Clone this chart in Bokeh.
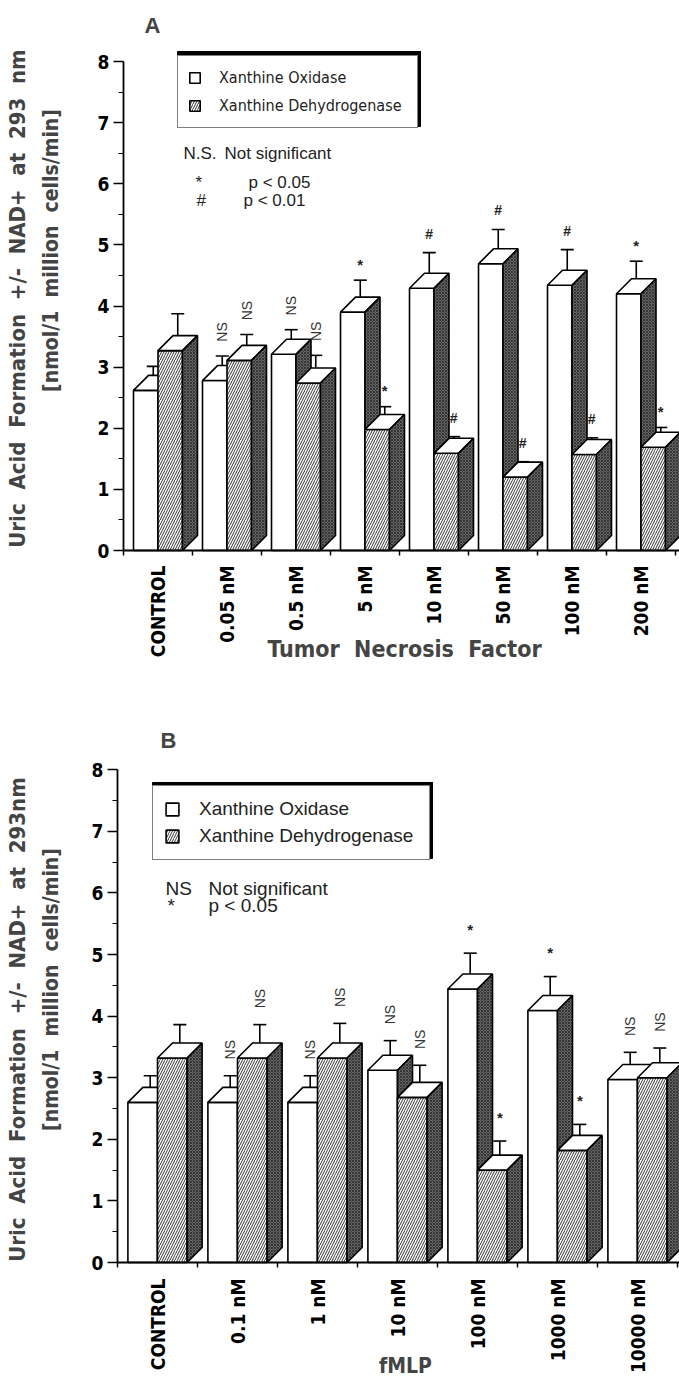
import math
from bokeh.plotting import figure
from bokeh.models import (Range1d, FixedTicker, Whisker, TeeHead, ColumnDataSource,
                          Legend, LegendItem, Label, BoxAnnotation)
from bokeh.layouts import column
from bokeh.embed import file_html
from bokeh.resources import INLINE
from bokeh.core.properties import value

# ---------------- data ----------------
a_categories = ["CONTROL", "0.05 nM", "0.5 nM", "5 nM", "10 nM", "50 nM", "100 nM", "200 nM"]
a_xo = [2.62, 2.78, 3.21, 3.90, 4.29, 4.69, 4.34, 4.20]
a_xo_err = [0.27, 0.28, 0.28, 0.40, 0.46, 0.44, 0.46, 0.41]
a_xd = [3.27, 3.11, 2.74, 1.98, 1.59, 1.20, 1.57, 1.69]
a_xd_err = [0.48, 0.30, 0.33, 0.25, 0.15, 0.13, 0.15, 0.20]
a_xo_sig = ["", "NS", "NS", "*", "#", "#", "#", "*"]
a_xd_sig = ["", "NS", "NS", "*", "#", "#", "#", "*"]

b_categories = ["CONTROL", "0.1 nM", "1 nM", "10 nM", "100 nM", "1000 nM", "10000 nM"]
b_xo = [2.60, 2.60, 2.60, 3.12, 4.44, 4.09, 2.97]
b_xo_err = [0.31, 0.31, 0.31, 0.36, 0.46, 0.43, 0.32]
b_xd = [3.32, 3.32, 3.32, 2.68, 1.50, 1.82, 3.00]
b_xd_err = [0.42, 0.42, 0.44, 0.40, 0.35, 0.30, 0.36]
b_xo_sig = ["", "NS", "NS", "NS", "*", "*", "NS"]
b_xd_sig = ["", "NS", "NS", "NS", "*", "*", "NS"]

series_labels = ["Xanthine Oxidase", "Xanthine Dehydrogenase"]
y_title_1 = "Uric Acid Formation +/- NAD+ at 293 nm"
y_title_1b = "Uric Acid Formation +/- NAD+ at 293nm"
y_title_2 = "[nmol/1 million cells/min]"
a_notes = [("N.S.", "Not significant"), ("*", "p < 0.05"), ("#", "p < 0.01")]
b_notes = [("NS", "Not significant"), ("*", "p < 0.05")]
y_ticks = [0, 1, 2, 3, 4, 5, 6, 7, 8]

NARROW = "'Liberation Sans Narrow', 'DejaVu Sans Condensed', sans-serif"
SANS = "'Liberation Sans', Arial, sans-serif"
GAP = " \u00a0"


def spaced(s, gap=GAP):
    return gap.join(s.split(" "))


def make_panel(cfg, cats, xo, xo_err, xd, xd_err, xo_sig, xd_sig, letter, ytitles,
               xtitle, notes, legend_font, legend_cfg):
    G, U = cfg["G"], cfg["U"]
    fl, fb = cfg["origin"]           # page position of data (0, 0)
    top, height, width = cfg["top"], cfg["height"], cfg["width"]
    W = cfg["W"]
    ddx = cfg["depth"] / G
    ddy = cfg["depth"] / U

    def px(x):
        return (x - fl) / G

    def py(y):
        return (fb - y) / U

    p = figure(frame_width=width, frame_height=height, output_backend="svg",
               toolbar_location=None, min_border=0,
               x_range=Range1d(px(0), px(width)), y_range=Range1d(py(top + height), py(top)))
    p.outline_line_color = None
    p.xgrid.visible = False
    p.ygrid.visible = False
    p.background_fill_color = "white"

    n = len(cats)
    idx = list(range(n))
    xo_l = [i + 0.5 - W for i in idx]
    xo_r = [i + 0.5 for i in idx]
    xd_l = [i + 0.5 for i in idx]
    xd_r = [i + 0.5 + W for i in idx]

    lw = 1.6

    def top_face(ls, rs, hs):
        return ([[l, r, r + ddx, l + ddx] for l, r in zip(ls, rs)],
                [[h, h, h + ddy, h + ddy] for h in hs])

    def side_face(rs, hs):
        return ([[r, r + ddx, r + ddx, r] for r in rs],
                [[0, ddy, h + ddy, h] for h in hs])

    side_style = dict(fill_color="#666666", hatch_pattern="diagonal_cross", hatch_color="#202020",
                      hatch_scale=3.0, hatch_weight=0.7, line_color="black", line_width=lw)

    xo_front = p.quad(left=xo_l, right=xo_r, bottom=0, top=xo, fill_color="white",
                      line_color="black", line_width=lw)
    xs, ys = top_face(xo_l, xo_r, xo)
    p.patches(xs, ys, fill_color="white", line_color="black", line_width=lw)
    xs, ys = side_face(xo_r, xo)
    p.patches(xs, ys, **side_style)

    xd_front = p.quad(left=xd_l, right=xd_r, bottom=0, top=xd, fill_color="white",
                      hatch_pattern="right_diagonal_line", hatch_color="#333333",
                      hatch_scale=5.0, hatch_weight=1.0, line_color="black", line_width=lw)
    xs, ys = top_face(xd_l, xd_r, xd)
    p.patches(xs, ys, fill_color="white", line_color="black", line_width=lw)
    xs, ys = side_face(xd_r, xd)
    p.patches(xs, ys, **side_style)

    # error bars
    base, lower, upper = [], [], []
    for ls, rs, hs, es in ((xo_l, xo_r, xo, xo_err), (xd_l, xd_r, xd, xd_err)):
        for l, r, h, e in zip(ls, rs, hs, es):
            base.append((l + r) / 2 + ddx / 2)
            lower.append(h + ddy / 2)
            upper.append(h + e + ddy / 2)
    src = ColumnDataSource(dict(base=base, lower=lower, upper=upper))
    p.add_layout(Whisker(source=src, base="base", lower="lower", upper="upper",
                         dimension="height", line_color="black", line_width=lw,
                         upper_head=TeeHead(size=13, line_width=lw, line_color="black"),
                         lower_head=None))

    # significance marks
    rot = dict(x=[], y=[], text=[])
    star = dict(x=[], y=[], text=[])
    hsh = dict(x=[], y=[], text=[])
    offs = cfg["sig_off"]
    for ls, rs, hs, es, ss in ((xo_l, xo_r, xo, xo_err, xo_sig), (xd_l, xd_r, xd, xd_err, xd_sig)):
        for l, r, h, e, s in zip(ls, rs, hs, es, ss):
            if not s:
                continue
            x = (l + r) / 2 + ddx / 2
            ycap = h + e + ddy / 2
            d = rot if s == "NS" else (star if s == "*" else hsh)
            d["x"].append(x)
            d["y"].append(ycap + offs[s] / U)
            d["text"].append(s)
    p.text(x="x", y="y", text="text", source=ColumnDataSource(rot), angle=math.pi / 2,
           text_align="center", text_baseline="middle", text_font=value(SANS),
           text_font_size="14px", text_color="#333333")
    p.text(x="x", y="y", text="text", source=ColumnDataSource(star),
           text_align="center", text_baseline="middle", text_font=value(SANS),
           text_font_size="15px", text_font_style="bold", text_color="#222222")
    p.text(x="x", y="y", text="text", source=ColumnDataSource(hsh),
           text_align="center", text_baseline="middle", text_font=value(SANS),
           text_font_size="14px", text_font_style="bold", text_color="#222222")

    # axes pinned at the data origin, inside the full-size frame
    yax = p.yaxis[0]
    yax.fixed_location = 0
    yax.ticker = FixedTicker(ticks=y_ticks, minor_ticks=[t + 0.5 for t in y_ticks[:-1]])
    yax.bounds = (0, 8)
    yax.axis_line_width = 1.8
    yax.major_tick_out = 10
    yax.major_tick_in = 0
    yax.minor_tick_out = 5
    yax.minor_tick_in = 0
    yax.major_tick_line_width = 1.5
    yax.minor_tick_line_width = 1.2
    yax.major_label_standoff = 4
    yax.major_label_text_font = NARROW
    yax.major_label_text_font_style = "bold"
    yax.major_label_text_font_size = "19px"
    yax.major_label_text_color = "black"

    xax = p.xaxis[0]
    xax.fixed_location = 0
    centers = [i + 0.5 for i in idx]
    xax.ticker = FixedTicker(ticks=centers, minor_ticks=list(range(n + 1)))
    xax.bounds = (0, px(width))
    xax.major_label_overrides = {c: lab for c, lab in zip(centers, cats)}
    xax.major_label_orientation = math.pi / 2
    xax.axis_line_width = 1.8
    xax.major_tick_out = 0
    xax.major_tick_in = 0
    xax.minor_tick_out = 5
    xax.minor_tick_in = 0
    xax.minor_tick_line_width = 1.5
    xax.major_label_standoff = cfg["xlabel_standoff"]
    xax.major_label_text_font = NARROW
    xax.major_label_text_font_style = "bold"
    xax.major_label_text_font_size = "19px"
    xax.major_label_text_color = "black"

    # legend (fixed size) with a heavy black edge on the top and right
    bl, bb = legend_cfg["box_left_bottom"]
    lw_px = 2 * legend_cfg["padding"] + legend_cfg["glyph"] + legend_cfg["standoff"] + legend_cfg["label_width"]
    lh_px = 2 * legend_cfg["padding"] + 2 * legend_cfg["label_height"] + legend_cfg["spacing"]
    st, sr = legend_cfg["heavy"]
    box_top = bb - lh_px
    p.quad(left=[px(bl)], right=[px(bl + lw_px + sr)], top=[py(box_top - st)],
           bottom=[py(box_top + 1)], fill_color="black", line_color="black", line_width=1)
    p.quad(left=[px(bl + lw_px - 1)], right=[px(bl + lw_px + sr)], top=[py(box_top - st)],
           bottom=[py(bb - 2)], fill_color="black", line_color="black", line_width=1)
    items = [LegendItem(label=series_labels[0], renderers=[xo_front]),
             LegendItem(label=series_labels[1], renderers=[xd_front])]
    p.add_layout(Legend(items=items, location=(bl, (top + height) - bb), orientation="vertical",
                        glyph_width=legend_cfg["glyph"], glyph_height=legend_cfg["glyph"],
                        label_height=legend_cfg["label_height"], label_width=legend_cfg["label_width"],
                        spacing=legend_cfg["spacing"], padding=legend_cfg["padding"], margin=0,
                        label_standoff=legend_cfg["standoff"],
                        label_text_font=legend_font, label_text_font_size=legend_cfg["font_size"],
                        label_text_color="#222222", background_fill_color="white",
                        background_fill_alpha=1.0, border_line_color="black",
                        border_line_width=1.5))

    # notes
    for (k, t), (kx, tx, yy) in zip(notes, cfg["note_pos"]):
        p.add_layout(Label(x=px(kx), y=py(yy), text=k, text_font=SANS,
                           text_font_size=cfg["note_size"], text_baseline="middle",
                           text_color="#222222"))
        p.add_layout(Label(x=px(tx), y=py(yy), text=t, text_font=SANS,
                           text_font_size=cfg["note_size"], text_baseline="middle",
                           text_color="#222222"))

    # panel letter
    lxp, lyp = cfg["letter_pos"]
    p.add_layout(Label(x=px(lxp), y=py(lyp), text=letter, text_font=SANS,
                       text_font_size="22px", text_font_style="bold",
                       text_align="center", text_baseline="middle"))
    # y titles
    for t, (tx, ty), fs in zip(ytitles, cfg["ytitle_pos"], ("22px", "21px")):
        p.add_layout(Label(x=px(tx), y=py(ty), text=spaced(t), text_font=NARROW,
                           text_font_size=fs, text_font_style="bold", angle=math.pi / 2,
                           text_align="center", text_baseline="middle"))
    # x title
    xtx, xty = cfg["xtitle_pos"]
    p.add_layout(Label(x=px(xtx), y=py(xty), text=spaced(xtitle), text_font=NARROW,
                       text_font_size=cfg["xtitle_size"], text_font_style="bold",
                       text_align="center", text_baseline="middle"))
    return p


cfg_a = dict(G=69.0, U=61.125, origin=(123, 550), top=0, height=700, width=679,
             W=0.355, depth=15, xlabel_standoff=10, sig_off={"NS": 24, "*": 16, "#": 19},
             note_pos=[(183, 224, 153), (195, 248, 182), (196, 243, 200)], note_size="17px",
             letter_pos=(152, 25), ytitle_pos=[(17, 298), (50, 250)], xtitle_pos=(404, 648),
             xtitle_size="23px")
leg_a = dict(box_left_bottom=(177, 128), glyph=13, label_height=23, label_width=188, spacing=5,
             padding=10, standoff=18, font_size="16px", heavy=(6, 4))

cfg_b = dict(G=80.0, U=61.6, origin=(117, 1262), top=700, height=681, width=679,
             W=0.37, depth=15, xlabel_standoff=11, sig_off={"NS": 26, "*": 24, "#": 22},
             note_pos=[(165, 208, 888), (167, 208, 905)], note_size="19px",
             letter_pos=(168, 740), ytitle_pos=[(17, 1019), (50, 989)], xtitle_pos=(405, 1365),
             xtitle_size="21px")
leg_b = dict(box_left_bottom=(152, 860), glyph=16, label_height=24, label_width=219, spacing=3,
             padding=11, standoff=19, font_size="19px", heavy=(5, 4))

pa = make_panel(cfg_a, a_categories, a_xo, a_xo_err, a_xd, a_xd_err, a_xo_sig, a_xd_sig,
                "A", [y_title_1, y_title_2], "Tumor Necrosis Factor", a_notes, NARROW, leg_a)
pb = make_panel(cfg_b, b_categories, b_xo, b_xo_err, b_xd, b_xd_err, b_xo_sig, b_xd_sig,
                "B", [y_title_1b, y_title_2], "fMLP", b_notes, SANS, leg_b)

layout = column(pa, pb, spacing=0)
open("out.html", "w").write(file_html(layout, INLINE))
